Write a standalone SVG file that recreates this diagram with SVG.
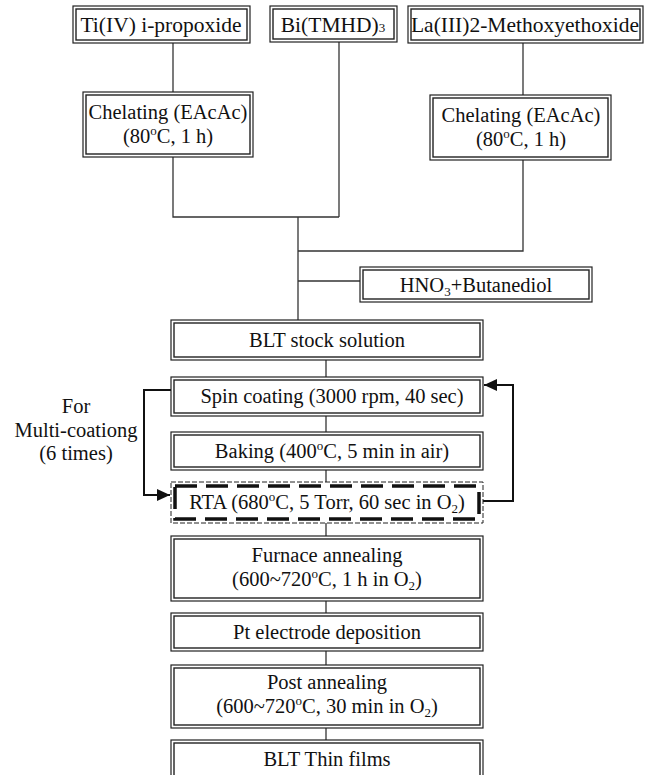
<svg xmlns="http://www.w3.org/2000/svg" width="649" height="775" viewBox="0 0 649 775">
<defs>
<style>
.o{fill:#fff;stroke:#222;stroke-width:1.2}
.i{fill:none;stroke:#222;stroke-width:1.4}
.c{fill:none;stroke:#333;stroke-width:1.3}
.lp{fill:none;stroke:#111;stroke-width:2}
.d1{fill:#fff;stroke:#222;stroke-width:1;stroke-dasharray:5 2}
.d2{fill:none;stroke:#111;stroke-width:3.5;stroke-dasharray:22 9}
text{font-size:20.5px;fill:#111;text-anchor:middle}
.t{font-size:21.5px}
.sm{font-size:13px}
</style>
<marker id="ah" markerUnits="userSpaceOnUse" markerWidth="14" markerHeight="12" refX="13" refY="6" orient="auto">
<path d="M0,0 L13,6 L0,12 z" fill="#111"/>
</marker>
</defs>
<g id="connectors">
<path class="c" d="M173,43 V92"/>
<path class="c" d="M523,43 V95"/>
<path class="c" d="M173,157 V217 H339"/>
<path class="c" d="M339,42 V217"/>
<path class="c" d="M523,160 V251 H298"/>
<path class="c" d="M298,217 V320"/>
<path class="c" d="M298,281 H360"/>
<path class="c" d="M326,360 V377"/>
<path class="c" d="M326,416 V432"/>
<path class="c" d="M326,470 V482"/>
<path class="c" d="M326,523 V536"/>
<path class="c" d="M326,601 V613"/>
<path class="c" d="M326,651 V665"/>
<path class="c" d="M326,728 V740"/>
<path class="lp" d="M171,390 H144 V495 H170" marker-end="url(#ah)"/>
<path class="lp" d="M483,501 H513 V385 H484" marker-end="url(#ah)"/>
</g>
<g font-family="'Liberation Serif', 'Times New Roman', 'DejaVu Serif', serif">
<g id="ti">
<rect class="o" x="73" y="6" width="177" height="37"/>
<rect class="i" x="76" y="9" width="171" height="31"/>
<text class="t" x="161" y="32">Ti(IV) i-propoxide</text>
</g>
<g id="bi">
<rect class="o" x="270" y="6" width="127" height="36"/>
<rect class="i" x="273" y="9" width="121" height="30"/>
<text class="t" x="333" y="32">Bi(TMHD)<tspan class="sm">3</tspan></text>
</g>
<g id="la">
<rect class="o" x="408" y="6" width="235" height="37"/>
<rect class="i" x="411" y="9" width="229" height="31"/>
<text class="t" x="525" y="32">La(III)2-Methoxyethoxide</text>
</g>
<g id="chel-ti">
<rect class="o" x="83" y="92" width="170" height="65"/>
<rect class="i" x="86" y="95" width="164" height="59"/>
<text x="168" y="119">Chelating (EAcAc)</text>
<text x="168" y="143">(80<tspan class="sm" dy="-8">o</tspan><tspan dy="8">C, 1 h)</tspan></text>
</g>
<g id="chel-la">
<rect class="o" x="430" y="95" width="181" height="65"/>
<rect class="i" x="433" y="98" width="175" height="59"/>
<text x="521" y="122">Chelating (EAcAc)</text>
<text x="521" y="146">(80<tspan class="sm" dy="-8">o</tspan><tspan dy="8">C, 1 h)</tspan></text>
</g>
<g id="hno3">
<rect class="o" x="360" y="267" width="232" height="35"/>
<rect class="i" x="363" y="270" width="226" height="29"/>
<text x="476" y="292">HNO<tspan class="sm" dy="4">3</tspan><tspan dy="-4">+Butanediol</tspan></text>
</g>
<g id="stock">
<rect class="o" x="171" y="320" width="312" height="40"/>
<rect class="i" x="174" y="323" width="306" height="34"/>
<text x="327" y="347">BLT stock solution</text>
</g>
<g id="spin">
<rect class="o" x="171" y="377" width="312" height="39"/>
<rect class="i" x="174" y="380" width="306" height="33"/>
<text x="332" y="403">Spin coating (3000 rpm, 40 sec)</text>
</g>
<g id="bake">
<rect class="o" x="171" y="432" width="312" height="38"/>
<rect class="i" x="174" y="435" width="306" height="32"/>
<text x="332" y="458">Baking (400<tspan class="sm" dy="-8">o</tspan><tspan dy="8">C, 5 min in air)</tspan></text>
</g>
<g id="rta">
<rect class="d1" x="171" y="482" width="312" height="41"/>
<rect class="d2" x="175" y="486" width="304" height="33"/>
<text x="327" y="509">RTA (680<tspan class="sm" dy="-8">o</tspan><tspan dy="8">C,  5 Torr, 60 sec in O</tspan><tspan class="sm" dy="4">2</tspan><tspan dy="-4">)</tspan></text>
</g>
<g id="furnace">
<rect class="o" x="171" y="536" width="312" height="65"/>
<rect class="i" x="174" y="539" width="306" height="59"/>
<text x="327" y="562">Furnace annealing</text>
<text x="327" y="586">(600~720<tspan class="sm" dy="-8">o</tspan><tspan dy="8">C,  1 h  in O</tspan><tspan class="sm" dy="4">2</tspan><tspan dy="-4">)</tspan></text>
</g>
<g id="pt">
<rect class="o" x="171" y="613" width="312" height="38"/>
<rect class="i" x="174" y="616" width="306" height="32"/>
<text x="327" y="639">Pt electrode deposition</text>
</g>
<g id="post">
<rect class="o" x="171" y="665" width="312" height="63"/>
<rect class="i" x="174" y="668" width="306" height="57"/>
<text x="327" y="689">Post annealing</text>
<text x="327" y="713">(600~720<tspan class="sm" dy="-8">o</tspan><tspan dy="8">C, 30 min in O</tspan><tspan class="sm" dy="4">2</tspan><tspan dy="-4">)</tspan></text>
</g>
<g id="thin">
<rect class="o" x="171" y="740" width="312" height="50"/>
<rect class="i" x="174" y="743" width="306" height="44"/>
<text x="327" y="766">BLT Thin films</text>
</g>
<g id="label">
<text x="76" y="413">For</text>
<text x="76" y="437">Multi-coationg</text>
<text x="76" y="460">(6 times)</text>
</g>
</g>
</svg>
